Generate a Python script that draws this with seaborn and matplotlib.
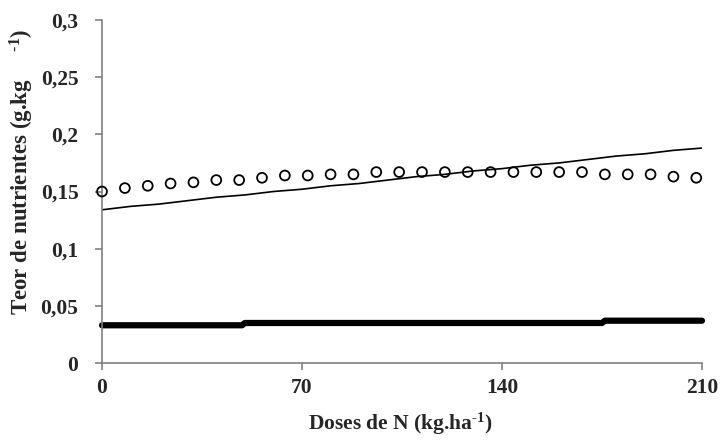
import numpy as np
import pandas as pd
import matplotlib
matplotlib.use("Agg")
import matplotlib.pyplot as plt
import seaborn as sns

# Data
circle_x = [0, 8, 16, 24, 32, 40, 48, 56, 64, 72, 80, 88, 96, 104, 112, 120, 128,
            136, 144, 152, 160, 168, 176, 184, 192, 200, 208]
circle_y = [0.150, 0.153, 0.155, 0.157, 0.158, 0.160, 0.160, 0.162, 0.164, 0.164,
            0.165, 0.165, 0.167, 0.167, 0.167, 0.167, 0.167, 0.167, 0.167, 0.167,
            0.167, 0.167, 0.165, 0.165, 0.165, 0.163, 0.162]

line_x = [0, 10, 20, 30, 40, 50, 60, 70, 80, 90, 100, 110, 120, 130, 140, 150,
          160, 170, 180, 190, 200, 210]
line_y = [0.134, 0.137, 0.139, 0.142, 0.145, 0.147, 0.150, 0.152, 0.155, 0.157,
          0.160, 0.163, 0.165, 0.168, 0.170, 0.173, 0.175, 0.178, 0.181, 0.183,
          0.186, 0.188]

bottom_x = [0, 49, 50, 175, 176, 210]
bottom_y = [0.033, 0.033, 0.035, 0.035, 0.037, 0.037]

x_ticks = [0, 70, 140, 210]
y_ticks = [0, 0.05, 0.1, 0.15, 0.2, 0.25, 0.3]
y_tick_labels = ["0", "0,05", "0,1", "0,15", "0,2", "0,25", "0,3"]

sns.set_style("white")
plt.rcParams["font.family"] = ["Liberation Serif", "DejaVu Serif"]
plt.rcParams["font.weight"] = "bold"
plt.rcParams["mathtext.fontset"] = "custom"
plt.rcParams["mathtext.rm"] = "Liberation Serif:bold"
plt.rcParams["mathtext.bf"] = "Liberation Serif:bold"
plt.rcParams["mathtext.default"] = "bf"

fig = plt.figure(figsize=(7.2, 4.4), dpi=100)
ax = fig.add_axes([0.1417, 0.175, 0.8333, 0.7795])

df_line = pd.DataFrame({"x": line_x, "y": line_y})
df_circ = pd.DataFrame({"x": circle_x, "y": circle_y})
df_bot = pd.DataFrame({"x": bottom_x, "y": bottom_y})

sns.lineplot(data=df_line, x="x", y="y", ax=ax, color="black", linewidth=1.2)
sns.lineplot(data=df_bot, x="x", y="y", ax=ax, color="black", linewidth=4.5,
             solid_capstyle="round", solid_joinstyle="round", clip_on=False)
sns.scatterplot(data=df_circ, x="x", y="y", ax=ax, marker="o", s=50,
                facecolor="none", edgecolor="black", linewidth=1.3, clip_on=False,
                zorder=5)

ax.set_xlim(0, 210)
ax.set_ylim(0, 0.3)
ax.set_xticks(x_ticks)
ax.set_xticklabels([str(v) for v in x_ticks], fontsize=15.5, fontweight="bold")
ax.set_yticks(y_ticks)
ax.set_yticklabels(y_tick_labels, fontsize=15.5, fontweight="bold")

for s in ["top", "right"]:
    ax.spines[s].set_visible(False)
for s in ["left", "bottom"]:
    ax.spines[s].set_color("#808080")
    ax.spines[s].set_linewidth(1.2)

ax.tick_params(axis="both", direction="out", length=5, width=1.2, color="#808080",
               left=True, bottom=True)
ax.tick_params(axis="x", pad=6)
ax.tick_params(axis="y", pad=12)

ax.set_xlabel(r"Doses de N (kg.ha$^{\text{-1}}$)", fontsize=15.5, fontweight="bold")
ax.xaxis.set_label_coords(0.497, -0.14)
ax.set_ylabel(r"Teor de nutrientes (g.kg     $^{\text{-1}}$)", fontsize=16.5,
              fontweight="bold")
ax.yaxis.set_label_coords(-0.11, 0.557)

fig.savefig("out.png", dpi=100)
